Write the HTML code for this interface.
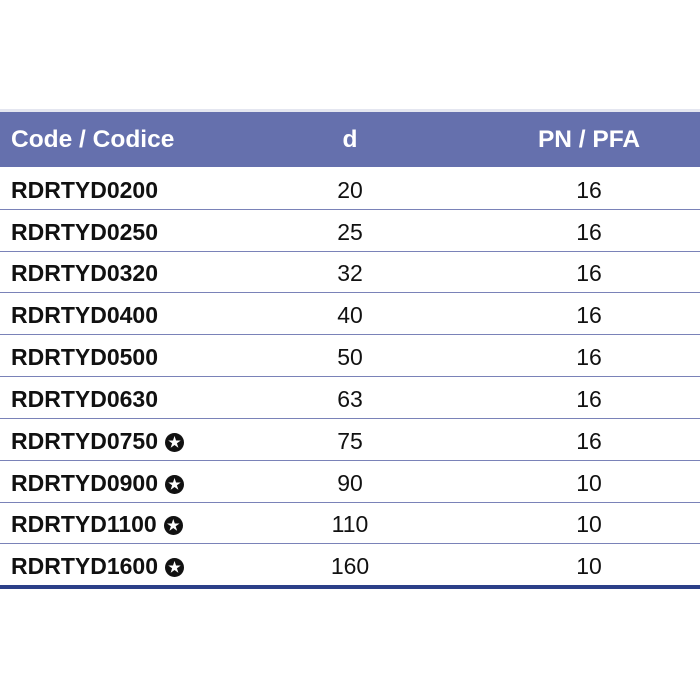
<!DOCTYPE html>
<html><head><meta charset="utf-8"><style>
body{margin:0;width:700px;height:700px;background:#fff;font-family:"Liberation Sans",sans-serif;position:relative;overflow:hidden}
.top{position:absolute;left:0;top:109px;width:700px;height:3px;background:#e4e6f0}
.hdr{position:absolute;left:0;top:112px;width:700px;height:55px;background:#6570ad;color:#fff;font-weight:bold;font-size:24.5px}
.row{position:absolute;left:0;width:700px;height:41px;border-bottom:1.5px solid #7a82b8;font-size:23px;color:#111}
span{white-space:nowrap}
.c1{position:absolute;left:11px;font-weight:bold}
.c2{position:absolute;left:250px;width:200px;text-align:center}
.c3{position:absolute;left:489px;width:200px;text-align:center}
.hdr span{top:14px}
.row span{top:9px}
.star{display:inline-block;width:19px;height:19px;border-radius:50%;background:#111;color:#fff;font-size:14px;line-height:19px;text-align:center;vertical-align:2px;margin-left:7px}
.bot{position:absolute;left:0;top:585px;width:700px;height:4px;background:#2b3f88}
</style></head><body>
<div class="top"></div>
<div class="hdr"><span class="c1">Code / Codice</span><span class="c2">d</span><span class="c3">PN / PFA</span></div>
<div class="row" style="top:168px"><span class="c1">RDRTYD0200</span><span class="c2">20</span><span class="c3">16</span></div>
<div class="row" style="top:210px"><span class="c1">RDRTYD0250</span><span class="c2">25</span><span class="c3">16</span></div>
<div class="row" style="top:251px"><span class="c1">RDRTYD0320</span><span class="c2">32</span><span class="c3">16</span></div>
<div class="row" style="top:293px"><span class="c1">RDRTYD0400</span><span class="c2">40</span><span class="c3">16</span></div>
<div class="row" style="top:335px"><span class="c1">RDRTYD0500</span><span class="c2">50</span><span class="c3">16</span></div>
<div class="row" style="top:377px"><span class="c1">RDRTYD0630</span><span class="c2">63</span><span class="c3">16</span></div>
<div class="row" style="top:419px"><span class="c1">RDRTYD0750<span class="star">★</span></span><span class="c2">75</span><span class="c3">16</span></div>
<div class="row" style="top:461px"><span class="c1">RDRTYD0900<span class="star">★</span></span><span class="c2">90</span><span class="c3">10</span></div>
<div class="row" style="top:502px"><span class="c1">RDRTYD1100<span class="star">★</span></span><span class="c2">110</span><span class="c3">10</span></div>
<div class="row" style="top:544px;border-bottom:none"><span class="c1">RDRTYD1600<span class="star">★</span></span><span class="c2">160</span><span class="c3">10</span></div>
<div class="bot"></div>
</body></html>
